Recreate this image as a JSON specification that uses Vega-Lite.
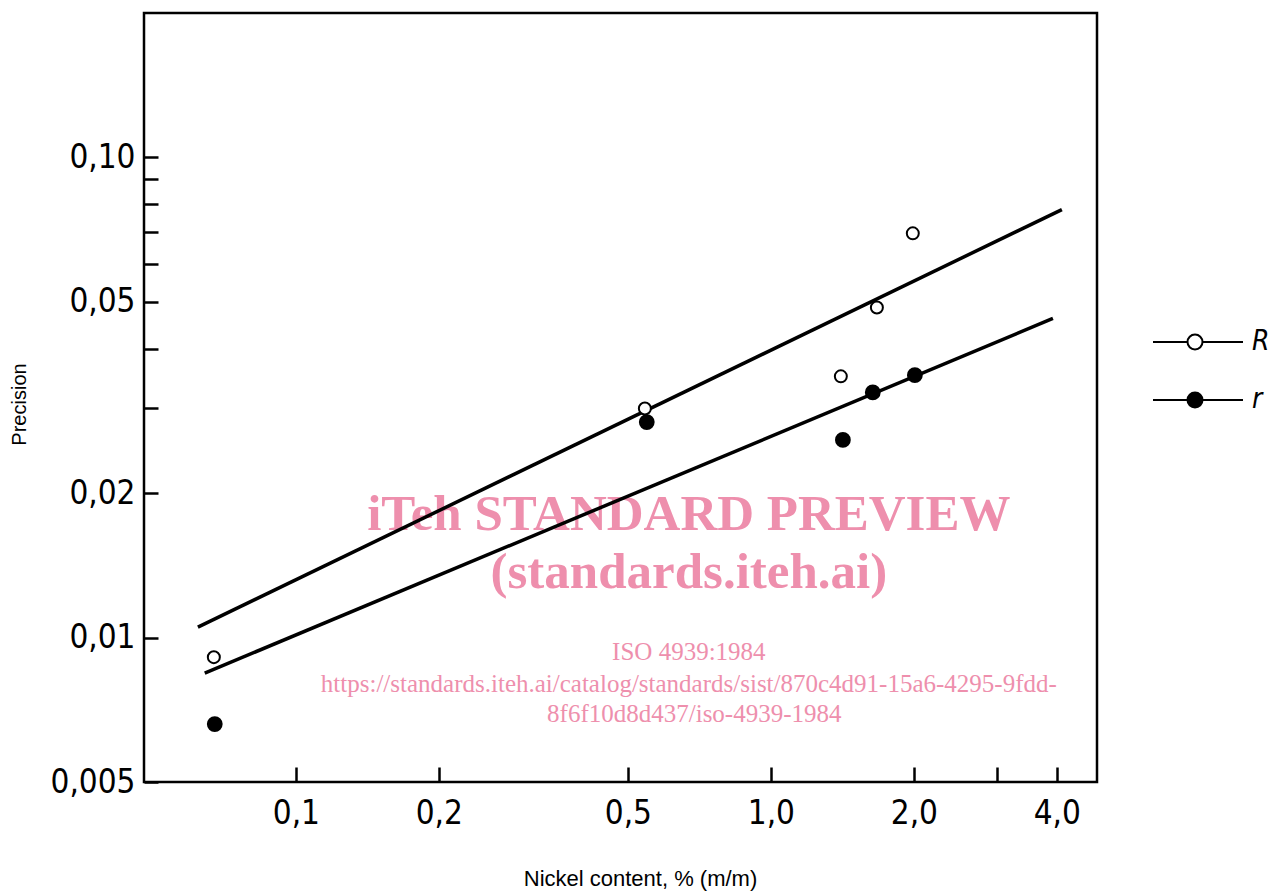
{
  "$schema": "https://vega.github.io/schema/vega-lite/v6.json",
  "width": 953,
  "height": 769,
  "autosize": {"type": "none"},
  "padding": {"left": 144, "top": 13, "right": 183, "bottom": 109},
  "background": "white",
  "datasets": {
    "points": [
      {"series": "R", "x": 0.0672, "y": 0.0091},
      {"series": "R", "x": 0.543, "y": 0.0300},
      {"series": "R", "x": 1.404, "y": 0.0350},
      {"series": "R", "x": 1.672, "y": 0.0487},
      {"series": "R", "x": 1.99, "y": 0.0695},
      {"series": "r", "x": 0.0675, "y": 0.0066},
      {"series": "r", "x": 0.548, "y": 0.0281},
      {"series": "r", "x": 1.418, "y": 0.0258},
      {"series": "r", "x": 1.639, "y": 0.0324},
      {"series": "r", "x": 2.01, "y": 0.0352}
    ],
    "lines": [
      {"series": "R", "x": 0.0622, "y": 0.01051},
      {"series": "R", "x": 4.099, "y": 0.0779},
      {"series": "r", "x": 0.0643, "y": 0.00843},
      {"series": "r", "x": 3.925, "y": 0.0462}
    ],
    "watermarkTitle": [
      {"label": "iTeh STANDARD PREVIEW", "x": 0.672, "y": 0.01674},
      {"label": "(standards.iteh.ai)", "x": 0.672, "y": 0.01267}
    ],
    "watermarkRef": [
      {"label": "ISO 4939:1984", "x": 0.672, "y": 0.00897},
      {"label": "https://standards.iteh.ai/catalog/standards/sist/870c4d91-15a6-4295-9fdd-", "x": 0.672, "y": 0.00769},
      {"label": "8f6f10d8d437/iso-4939-1984", "x": 0.69, "y": 0.00666}
    ]
  },
  "encoding": {
    "x": {
      "field": "x",
      "type": "quantitative",
      "scale": {"type": "log", "domain": [0.0479, 4.86], "nice": false},
      "axis": {
        "values": [0.1, 0.2, 0.5, 1, 2, 3, 4],
        "labelExpr": "datum.value == 3 ? '' : replace(format(datum.value, '.1f'), '.', ',')",
        "title": "Nickel content, % (m/m)",
        "tickSize": -15,
        "labelPadding": 30,
        "titleX": 496,
        "titleY": 103,
        "titleAlign": "center",
        "titleBaseline": "alphabetic",
        "titleFontSize": 22
      }
    },
    "y": {
      "field": "y",
      "type": "quantitative",
      "scale": {"type": "log", "domain": [0.005, 0.2], "nice": false},
      "axis": {
        "values": [0.005, 0.01, 0.02, 0.03, 0.04, 0.05, 0.06, 0.07, 0.08, 0.09, 0.1],
        "labelExpr": "datum.value == 0.005 ? '0,005' : (datum.value == 0.1 || datum.value == 0.05 || datum.value == 0.02 || datum.value == 0.01) ? replace(format(datum.value, '.2f'), '.', ',') : ''",
        "title": "Precision",
        "tickSize": -14,
        "labelPadding": 23,
        "titleX": -119,
        "titleY": 391,
        "titleAngle": -90,
        "titleAlign": "center",
        "titleBaseline": "alphabetic",
        "titleFontSize": 20
      }
    }
  },
  "layer": [
    {
      "data": {"name": "watermarkTitle"},
      "mark": {"type": "text", "font": "Liberation Serif", "fontWeight": "bold", "fontSize": 51, "color": "#ee8fad", "align": "center", "baseline": "alphabetic"},
      "encoding": {"text": {"field": "label"}}
    },
    {
      "data": {"name": "watermarkRef"},
      "mark": {"type": "text", "font": "Liberation Serif", "fontWeight": "normal", "fontSize": 25, "color": "#ee8fad", "align": "center", "baseline": "alphabetic"},
      "encoding": {"text": {"field": "label"}}
    },
    {
      "data": {"name": "lines"},
      "mark": {"type": "line", "color": "black", "strokeWidth": 3.5},
      "encoding": {"detail": {"field": "series"}}
    },
    {
      "data": {"name": "points"},
      "transform": [{"filter": "datum.series == 'R'"}],
      "mark": {"type": "point", "shape": "circle", "filled": true, "stroke": "black", "strokeWidth": 2, "opacity": 1, "size": 144},
      "encoding": {
        "fill": {
          "field": "series",
          "type": "nominal",
          "scale": {"domain": ["R", "r"], "range": ["white", "black"]},
          "legend": {
            "orient": "none",
            "legendX": 1037,
            "legendY": 315,
            "title": null,
            "padding": 0,
            "symbolType": "M-5.6,0L-1,0M1,0L6.4,0M1,0A1,1,0,1,1,-1,0A1,1,0,1,1,1,0Z",
            "symbolSize": 225,
            "symbolStrokeWidth": 2,
            "symbolStrokeColor": "black",
            "labelFont": "Liberation Sans Narrow, DejaVu Sans Condensed, sans-serif",
            "labelFontSize": 28,
            "labelFontStyle": "italic",
            "labelColor": "black",
            "labelOffset": 43,
            "rowPadding": 30,
            "labelBaseline": "middle"
          }
        }
      }
    },
    {
      "data": {"name": "points"},
      "transform": [{"filter": "datum.series == 'r'"}],
      "mark": {"type": "point", "shape": "circle", "filled": true, "stroke": "black", "strokeWidth": 2, "opacity": 1, "size": 190},
      "encoding": {
        "fill": {
          "field": "series",
          "type": "nominal",
          "scale": {"domain": ["R", "r"], "range": ["white", "black"]}
        }
      }
    }
  ],
  "config": {
    "view": {"stroke": "black", "strokeWidth": 2.5},
    "axis": {
      "domain": false,
      "grid": false,
      "tickColor": "black",
      "tickWidth": 2.5,
      "labelFont": "Liberation Sans Narrow, DejaVu Sans Condensed, sans-serif",
      "labelFontSize": 33,
      "labelColor": "black",
      "labelOverlap": false,
      "labelFlush": false,
      "titleFont": "Liberation Sans, Arial, sans-serif",
      "titleFontWeight": "normal",
      "titleColor": "black"
    }
  }
}
